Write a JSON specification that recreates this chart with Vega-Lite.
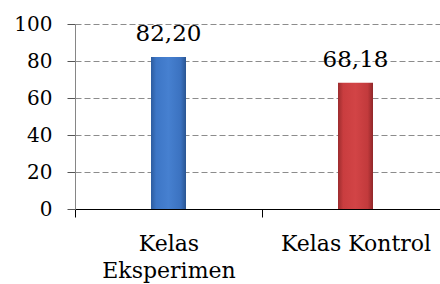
{
  "$schema": "https://vega.github.io/schema/vega-lite/v6.json",
  "width": 365,
  "height": 185,
  "autosize": {"type": "none"},
  "padding": {"left": 75, "top": 24, "right": 0, "bottom": 75},
  "background": "white",
  "config": {
    "view": {"stroke": null},
    "font": "DejaVu Serif",
    "axis": {"labelFont": "DejaVu Serif"},
    "text": {"font": "DejaVu Serif"}
  },
  "data": {
    "values": [
      {"kelas": "Kelas Eksperimen", "nilai": 82.20, "label": "82,20"},
      {"kelas": "Kelas Kontrol", "nilai": 68.18, "label": "68,18"}
    ]
  },
  "encoding": {
    "x": {
      "field": "kelas",
      "type": "nominal",
      "sort": null,
      "scale": {"range": [0, 374], "paddingInner": 0, "paddingOuter": 0},
      "axis": {
        "title": null,
        "labelAngle": 0,
        "labelFontSize": 22,
        "labelColor": "black",
        "labelPadding": 16,
        "labelBaseline": "top",
        "labelLineHeight": 27,
        "labelExpr": "datum.label == 'Kelas Eksperimen' ? ['Kelas', 'Eksperimen'] : datum.label",
        "tickBand": "extent",
        "tickSize": 8,
        "tickColor": "black",
        "domainColor": "black",
        "domainWidth": 1,
        "grid": false
      }
    },
    "y": {
      "field": "nilai",
      "type": "quantitative",
      "scale": {"domain": [0, 100], "nice": false},
      "axis": {
        "title": null,
        "values": [0, 20, 40, 60, 80, 100],
        "labelFontSize": 20,
        "labelColor": "black",
        "labelPadding": 15,
        "tickSize": 8,
        "tickColor": "#555555",
        "domainColor": "#868686",
        "grid": true,
        "gridColor": "#8c8c8c",
        "gridDash": [6, 3],
        "gridWidth": 1
      }
    }
  },
  "layer": [
    {
      "transform": [{"filter": "datum.kelas == 'Kelas Eksperimen'"}],
      "mark": {
        "type": "bar",
        "width": 35,
        "fill": {
          "gradient": "linear", "x1": 0, "x2": 1, "y1": 0, "y2": 0,
          "stops": [
            {"offset": 0, "color": "#2d5c9f"},
            {"offset": 0.15, "color": "#3d76c6"},
            {"offset": 0.5, "color": "#4680d0"},
            {"offset": 0.85, "color": "#3b72c0"},
            {"offset": 1, "color": "#2a5592"}
          ]
        }
      }
    },
    {
      "transform": [{"filter": "datum.kelas == 'Kelas Kontrol'"}],
      "mark": {
        "type": "bar",
        "width": 35,
        "fill": {
          "gradient": "linear", "x1": 0, "x2": 1, "y1": 0, "y2": 0,
          "stops": [
            {"offset": 0, "color": "#9c2c2e"},
            {"offset": 0.15, "color": "#c93d3f"},
            {"offset": 0.5, "color": "#d24446"},
            {"offset": 0.85, "color": "#c23a3c"},
            {"offset": 1, "color": "#902729"}
          ]
        }
      }
    },
    {
      "mark": {
        "type": "text",
        "baseline": "alphabetic",
        "dy": -16,
        "fontSize": 23,
        "color": "black"
      },
      "encoding": {"text": {"field": "label"}}
    }
  ]
}
